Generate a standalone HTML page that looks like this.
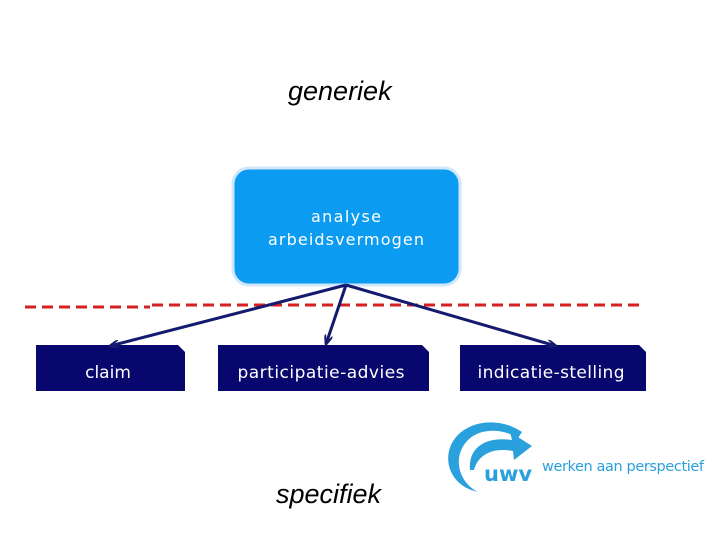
<!DOCTYPE html>
<html><head><style>
body{margin:0;width:720px;height:540px;background:#fff;position:relative;overflow:hidden;font-family:"DejaVu Sans","Liberation Sans",sans-serif}
.t{position:absolute;font-family:"Liberation Sans",sans-serif;font-style:italic;font-size:27px;color:#000}
</style></head><body>
<div class="t" style="left:288px;top:76px">generiek</div>
<div class="t" style="left:276px;top:479px">specifiek</div>
<svg width="720" height="540" style="position:absolute;left:0;top:0">
<defs><marker id="a" markerWidth="10" markerHeight="8" refX="9" refY="4" orient="auto" markerUnits="userSpaceOnUse"><path d="M0,0L10,4L0,8" fill="none" stroke="#141a6e" stroke-width="2"/></marker></defs>
<rect x="233" y="168" width="227" height="117" rx="16" fill="#0b9bf0" stroke="#cfe6fb" stroke-width="3"/>
<text x="346" y="222" text-anchor="middle" font-size="16" fill="#fff" font-family="DejaVu Sans,sans-serif" textLength="70">analyse</text>
<text x="346" y="245" text-anchor="middle" font-size="16" fill="#fff" font-family="DejaVu Sans,sans-serif" textLength="156">arbeidsvermogen</text>
<path d="M25 307H150M152 305H645" stroke="#d42020" stroke-width="3" stroke-dasharray="11,6"/>
<g fill="#07076e">
<path d="M36 345H178L185 352V391H36Z"/>
<path d="M218 345H422L429 352V391H218Z"/>
<path d="M460 345H639L646 352V391H460Z"/>
</g>
<g fill="#fff" font-size="17" text-anchor="middle" font-family="DejaVu Sans,sans-serif">
<text x="108" y="378">claim</text>
<text x="321" y="378" textLength="167">participatie-advies</text>
<text x="551" y="378" textLength="147">indicatie-stelling</text>
</g>
<g stroke="#141a6e" stroke-width="3" fill="none" marker-end="url(#a)">
<line x1="346" y1="285" x2="110" y2="346"/>
<line x1="346" y1="285" x2="326" y2="344"/>
<line x1="346" y1="285" x2="556" y2="346"/>
</g>
<path d="M478 492C445 485 440 450 460 433C478 418 505 420 522 432L518 438C502 428 480 428 468 440C452 456 458 482 478 492Z" fill="#2aa0dc"/>
<path d="M470 470C468 448 485 436 512 440L510 432L532 446L514 460L513 451C492 447 478 455 474 470Z" fill="#2aa0dc"/>
<text x="484" y="481" font-size="21" font-weight="bold" fill="#2aa0dc" font-family="DejaVu Sans,sans-serif">uwv</text>
<text x="542" y="471" font-size="14.5" fill="#2aa0dc" font-family="DejaVu Sans,sans-serif" textLength="162">werken aan perspectief</text>
</svg>
</body></html>
